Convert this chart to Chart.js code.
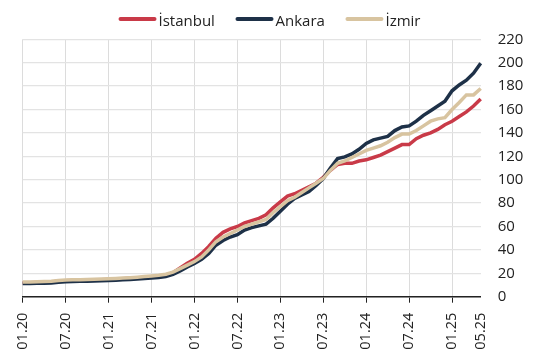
<!DOCTYPE html>
<html>
<head>
<meta charset="utf-8">
<script src="https://cdn.jsdelivr.net/npm/chart.js@4.4.1/dist/chart.umd.min.js"></script>
<style>
  html, body { margin: 0; padding: 0; background: #fff; }
  #wrap { width: 551px; height: 364px; }
</style>
</head>
<body>
<div id="wrap"><canvas id="myChart"></canvas></div>
<script>
// aylar (01.20 - 05.25)
var months = [
  '01.20','02.20','03.20','04.20','05.20','06.20','07.20','08.20','09.20','10.20','11.20','12.20',
  '01.21','02.21','03.21','04.21','05.21','06.21','07.21','08.21','09.21','10.21','11.21','12.21',
  '01.22','02.22','03.22','04.22','05.22','06.22','07.22','08.22','09.22','10.22','11.22','12.22',
  '01.23','02.23','03.23','04.23','05.23','06.23','07.23','08.23','09.23','10.23','11.23','12.23',
  '01.24','02.24','03.24','04.24','05.24','06.24','07.24','08.24','09.24','10.24','11.24','12.24',
  '01.25','02.25','03.25','04.25','05.25'
];

// x ekseninde gosterilen etiketler
var shownTicks = ['01.20','07.20','01.21','07.21','01.22','07.22','01.23','07.23','01.24','07.24','01.25','05.25'];

var yTicks = [0, 20, 40, 60, 80, 100, 120, 140, 160, 180, 200, 220];

var istanbul = [
  12.0, 12.0, 12.1, 12.3, 12.6, 13.2, 13.6, 13.8, 13.9, 14.1, 14.3, 14.5,
  14.8, 15.0, 15.3, 15.7, 16.0, 16.5, 17.0, 17.6, 18.5, 20.5, 24.5, 28.5,
  32, 37, 43, 50, 55, 58, 60, 63, 65, 67, 70, 76,
  81, 86, 88, 91, 94, 97, 102, 108, 113, 114, 114, 116,
  117, 119, 121, 124, 127, 130, 130, 135, 138, 140, 143, 147,
  150, 154, 158, 163, 169
];

var ankara = [
  11.3, 11.3, 11.4, 11.5, 11.8, 12.4, 12.8, 13.0, 13.1, 13.3, 13.5, 13.7,
  13.9, 14.1, 14.4, 14.8, 15.1, 15.5, 16.0, 16.5, 17.3, 19.0, 22.0, 25.5,
  28.5, 32, 37, 44, 48, 51, 53, 57, 59, 60.5, 62, 67,
  73, 79, 84, 87, 90, 95, 101, 110, 118, 119.5, 122, 126,
  131, 134, 135.5, 137, 142, 145, 146, 150, 155, 159, 163, 167,
  176, 181, 185, 191, 199.5
];

var izmir = [
  12.6, 12.6, 12.7, 12.9, 13.2, 13.8, 14.2, 14.4, 14.5, 14.7, 14.9, 15.1,
  15.4, 15.6, 15.9, 16.3, 16.7, 17.2, 17.7, 18.3, 19.2, 21.0, 24.0, 27.0,
  30, 34, 40, 47, 51, 54, 57, 60, 62, 64, 66, 72,
  77, 82, 85, 89, 93, 97, 101, 108, 114, 116, 119, 122,
  125, 127, 129, 132, 136, 139, 139, 142, 146, 150, 152, 153,
  160, 166, 172.5, 172.5, 178
];

var FONT = "'Segoe UI', 'Open Sans', sans-serif";
var last = months.length - 1;

function isShown(i) {
  return shownTicks.indexOf(months[i]) !== -1;
}

// leyenda dibujada a mano arriba (linea larga pegada al texto)
var legendArriba = {
  id: 'legendArriba',
  afterDraw: function (chart) {
    var c = chart.ctx;
    var sets = chart.data.datasets;
    c.save();
    c.font = '15px ' + FONT;
    c.textBaseline = 'alphabetic';
    var widths = sets.map(function (d) { return 38 + 2 + c.measureText(d.label).width; });
    var total = widths.reduce(function (a, b) { return a + b; }, 0) + 20.6 * (sets.length - 1);
    var x = 269.5 - total / 2;
    var y = 19;
    sets.forEach(function (d, i) {
      c.strokeStyle = d.borderColor;
      c.lineWidth = 4;
      c.lineCap = 'round';
      c.beginPath();
      c.moveTo(x + 2, y);
      c.lineTo(x + 36, y);
      c.stroke();
      c.fillStyle = '#222';
      c.fillText(d.label, x + 40, 25.8);
      x += widths[i] + 20.6;
    });
    c.restore();
  }
};

var ctx = document.getElementById('myChart');

new Chart(ctx, {
  type: 'line',
  data: {
    labels: months,
    datasets: [
      { label: 'İstanbul', data: istanbul, borderColor: '#C93A48', backgroundColor: '#C93A48', order: 2 },
      { label: 'Ankara', data: ankara, borderColor: '#1E3148', backgroundColor: '#1E3148', order: 1 },
      { label: 'İzmir', data: izmir, borderColor: '#D8C4A0', backgroundColor: '#D8C4A0', order: 0 }
    ]
  },
  plugins: [legendArriba],
  options: {
    responsive: true,
    maintainAspectRatio: false,
    animation: false,
    elements: {
      line: { borderWidth: 3.5, tension: 0 },
      point: { radius: 0 }
    },
    layout: { padding: { top: 39.3, left: 22.7, right: 0, bottom: 0 } },
    plugins: {
      tooltip: { enabled: false },
      legend: { display: false }
    },
    scales: {
      x: {
        ticks: {
          autoSkip: false,
          minRotation: 90,
          maxRotation: 90,
          padding: 10,
          color: '#222',
          font: { family: FONT, size: 14.5 },
          callback: function (val, i) {
            return isShown(i) ? months[i] : '';
          }
        },
        grid: {
          drawTicks: true,
          tickLength: 6,
          color: function (c) { return isShown(c.index) && c.index !== last ? '#dcdcdc' : 'rgba(0,0,0,0)'; },
          tickColor: function (c) { return isShown(c.index) && c.index !== last ? '#222' : 'rgba(0,0,0,0)'; },
          lineWidth: 1
        },
        border: { display: true, color: '#222', width: 1.5 },
        afterFit: function (scale) { scale.height = 67.3; }
      },
      y: {
        position: 'right',
        min: 0,
        max: 220,
        ticks: {
          stepSize: 20,
          padding: 17,
          color: '#222',
          font: { family: FONT, size: 15 },
          callback: function (val) { return yTicks.indexOf(val) !== -1 ? val : ''; }
        },
        grid: { drawTicks: false, color: '#e3e3e3', lineWidth: 1.3 },
        border: { display: false },
        afterFit: function (scale) { scale.width = 70.3; }
      }
    }
  }
});
</script>
</body>
</html>
